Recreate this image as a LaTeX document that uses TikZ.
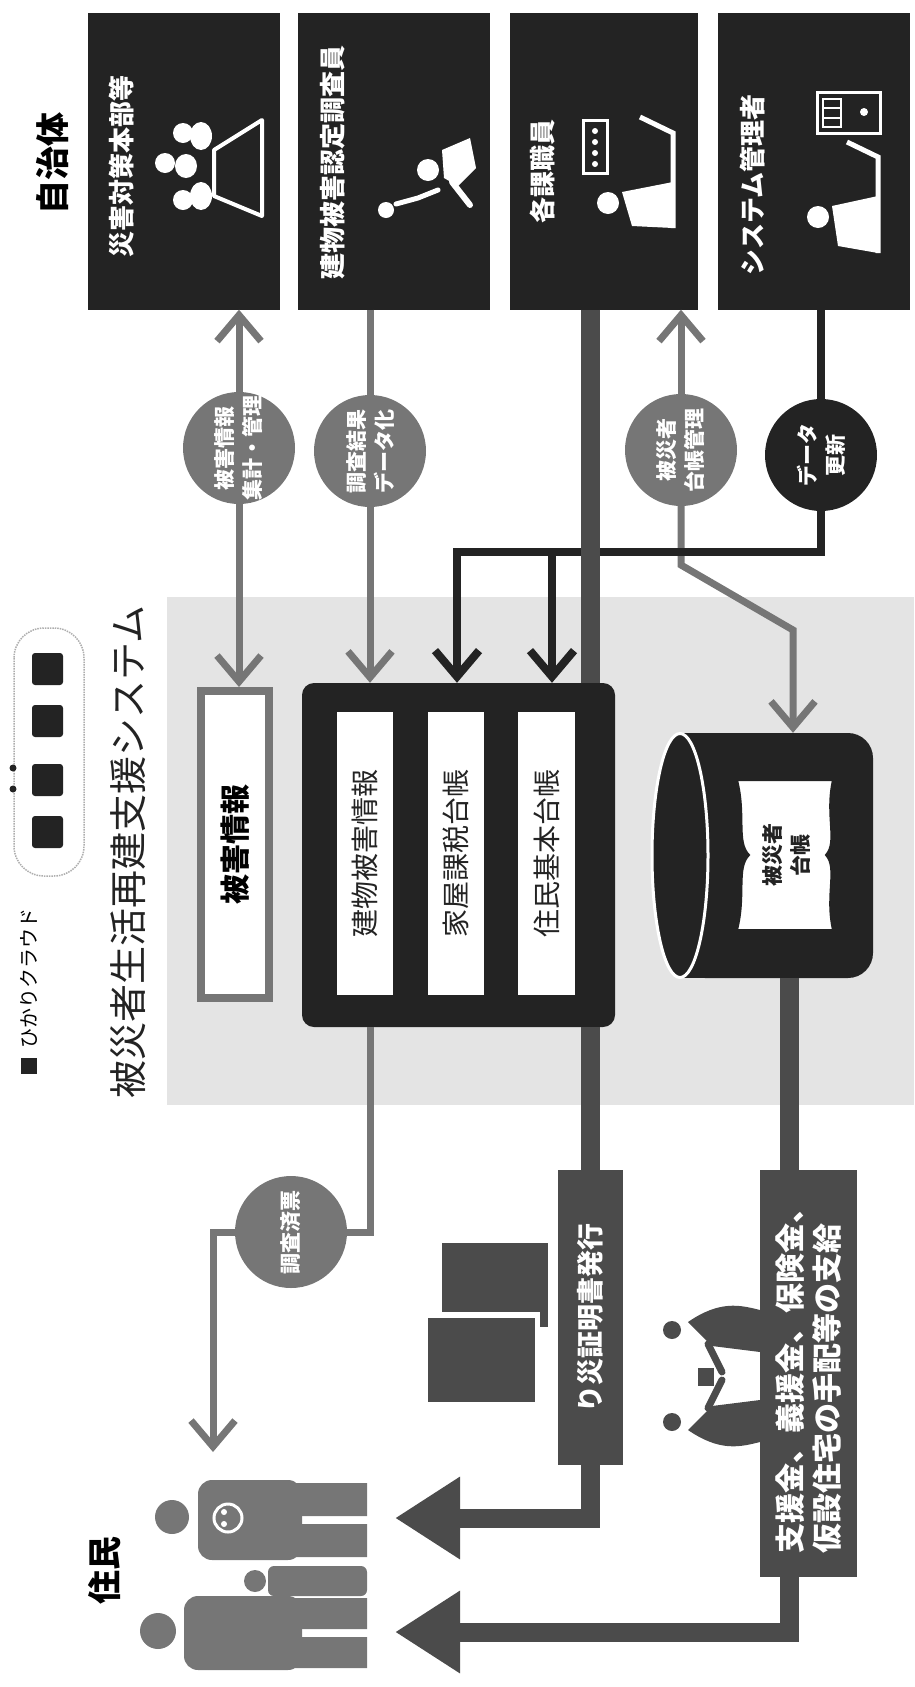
\documentclass[tikz,border=0pt]{standalone}
\usepackage{fontspec}
\setmainfont{Noto Sans CJK JP}
\usetikzlibrary{arrows.meta}

\definecolor{noir}{HTML}{232323}
\definecolor{sombre}{HTML}{4B4B4B}
\definecolor{gris}{HTML}{767676}
\definecolor{fond}{HTML}{E4E4E4}

\begin{document}
\begin{tikzpicture}[x=1pt,y=-1pt]
		\tikzstyle{acteur}=[fill=noir,minimum width=192pt,minimum height=297pt,inner sep=0pt]
		\tikzstyle{etiquette}=[rotate=90,inner sep=0pt,text=white,font=\bfseries\fontsize{26}{30}\selectfont]
		\tikzstyle{bulle}=[circle,fill=gris,minimum size=112pt,inner sep=0pt]
		\tikzstyle{texte bulle}=[rotate=90,align=center,text=white,font=\bfseries\fontsize{21}{28}\selectfont]
		\tikzstyle{barre}=[fill=white,minimum width=56pt,minimum height=283pt,inner sep=0pt]
		\tikzstyle{texte barre}=[rotate=90,text=noir,font=\fontsize{28}{28}\selectfont]
		\tikzstyle{bandeau}=[fill=sombre,inner sep=0pt]
		\tikzstyle{lien}=[draw=gris,line width=7pt]
		\tikzstyle{fleche}=[>={Straight Barb[length=26pt,width=44pt]}]
		\tikzstyle{bus}=[draw=noir,line width=8pt,->,>={Straight Barb[length=26pt,width=44pt]}]
		\tikzstyle{sortie}=[draw=sombre,line width=19pt,-{Triangle[length=65pt,width=78pt]}]
		
		\def\Haut{161}
		\def\Cercles{450}
		
		\useasboundingbox (0,0) rectangle (914,1687);
		\fill[fond] (167,597) rectangle (914,1105);
		
		% en-tetes
		\node[rotate=90,font=\bfseries\fontsize{34}{34}\selectfont] (Autorite) at (53,163) {自治体};
		\node[rotate=90,font=\bfseries\fontsize{34}{34}\selectfont] (Habitants) at (105,1570) {住民};
		\node[rotate=90,text=noir,font=\fontsize{38}{38}\selectfont] (Titre) at (128,852) {被災者生活再建支援システム};
		
		% logo
		\node[rotate=90,font=\fontsize{20}{20}\selectfont] (Logo) at (29,978) {ひかりクラウド};
		\fill[noir] (21,1058) rectangle (37,1074);
		\draw[gris!60,densely dotted,line width=1.5pt,rounded corners=30pt] (14,628) rectangle (84,876);
		\foreach \y in {669,721,780,832}
			\fill[noir,rounded corners=3pt] (32,\y-16) rectangle (63,\y+16);
		\fill[noir] (13,768) circle (3.5pt) (13,789) circle (3.5pt);
		
		% acteurs du haut
		\node[acteur] (Bureau) at (184,\Haut) {};
		\node[acteur] (Enqueteur) at (394,\Haut) {};
		\node[acteur,minimum width=188pt] (Agents) at (604,\Haut) {};
		\node[acteur] (Admin) at (814,\Haut) {};
		\node[etiquette] at (122,166) {災害対策本部等};
		\node[etiquette] at (333,162) {建物被害認定調査員};
		\node[etiquette] at (542,171) {各課職員};
		\node[etiquette] at (753,185) {システム管理者};
		
		% pictos des acteurs
		\draw[white,line width=4pt,line join=round] (214,150) -- (262,120) -- (262,216) -- (214,196) -- cycle;
		\fill[white] (183,133) circle (10pt) (165,163) circle (10pt) (183,200) circle (10pt);
		\fill[white] (201,136) ellipse [x radius=11pt,y radius=14pt];
		\fill[white] (186,166) ellipse [x radius=11pt,y radius=12pt];
		\fill[white] (201,196) ellipse [x radius=11pt,y radius=14pt];
		\fill[white] (428,170) circle (11pt);
		\fill[white] (442,150) -- (470,138) -- (476,168) -- (458,186) -- (444,178) -- cycle;
		\draw[white,line width=6pt,line cap=round] (452,182) -- (470,205);
		\fill[white] (386,210) circle (8pt);
		\draw[white,line width=5pt,line cap=round] (396,204) -- (418,198) -- (438,190);
		\draw[white,line width=3pt] (583,120) rectangle (607,173);
		\foreach \y in {131,142,153,164}
			\fill[white] (595,\y) circle (3pt);
		\fill[white] (608,203) circle (11pt);
		\fill[white] (622,192) -- (673,182) -- (673,228) -- (632,226) -- cycle;
		\draw[white,line width=5pt] (640,117) -- (673,133) -- (673,228);
		\draw[white,line width=3pt] (817,92) rectangle (880,133);
		\draw[white,line width=2pt] (823,99) rectangle (841,127) (823,108) -- (841,108) (823,118) -- (841,118);
		\fill[white] (864,112) circle (4pt);
		\fill[white] (818,217) circle (11pt);
		\fill[white] (832,206) -- (878,196) -- (878,253) -- (838,246) -- cycle;
		\draw[white,line width=5pt] (847,142) -- (878,157) -- (878,253);
		
		% systeme
		\node[draw=gris,line width=8pt,fill=white,minimum width=68pt,minimum height=307pt,inner sep=0pt] (Degats) at (235,844.5) {};
		\node[rotate=90,font=\bfseries\fontsize{30}{30}\selectfont] at (Degats) {被害情報};
		\node[fill=noir,rounded corners=12pt,minimum width=313pt,minimum height=344pt,inner sep=0pt] (Systeme) at (458.5,855) {};
		\node[barre] (Batiments) at (364.5,853.5) {};
		\node[barre] (Taxe) at (455.5,853.5) {};
		\node[barre,minimum width=57pt] (Residents) at (546.5,853.5) {};
		\node[texte barre] at (Batiments) {建物被害情報};
		\node[texte barre] at (Taxe) {家屋課税台帳};
		\node[texte barre] at (Residents) {住民基本台帳};
		
		% base des sinistres
		\node[minimum width=221pt,minimum height=245pt,inner sep=0pt] (Registre) at (762.5,855.5) {};
		\fill[noir,rounded corners=25pt] (680,733) rectangle (873,978);
		\fill[noir] (680,733) rectangle (760,978);
		\filldraw[fill=noir,draw=white,line width=3pt] (680,855.5) ellipse [x radius=28pt,y radius=122pt];
		\filldraw[fill=white,draw=noir,line width=2pt] (737,780) .. controls (746,815) and (736,842) .. (749,855) .. controls (736,868) and (746,895) .. (737,930) -- (833,930) .. controls (825,895) and (838,868) .. (826,855) .. controls (838,842) and (825,815) .. (833,780) -- cycle;
		\node[rotate=90,align=center,text=noir,font=\bfseries\fontsize{21}{28}\selectfont] at (787,855) {被災者\\台帳};
		
		% bulles
		\node[bulle] (Collecte) at (239,448) {};
		\node[bulle] (Saisie) at (370,451) {};
		\node[bulle] (GestionRegistre) at (681,\Cercles) {};
		\node[bulle,fill=noir] (MiseAJour) at (821,455) {};
		\node[bulle] (Releve) at (291,1232) {};
		\node[texte bulle] at (Collecte) {被害情報\\集計・管理};
		\node[texte bulle] at (Saisie) {調査結果\\データ化};
		\node[texte bulle] at (GestionRegistre) {被災者\\台帳管理};
		\node[texte bulle] at (MiseAJour) {データ\\更新};
		\node[texte bulle] at (Releve) {調査済票};
		
		\coordinate (CoudeA) at (681,565);
		\coordinate (CoudeB) at (793,630);
		\coordinate (Bus) at (457,552);
		\coordinate (Branche) at (552,552);
		\coordinate (Cible0) at (213,1452);
		\coordinate (Cible1) at (395,1518);
		\coordinate (Cible2) at (395,1632);
		
		% bandeaux du bas
		\node[bandeau,minimum width=65pt,minimum height=295pt] (Certif) at (590,1317.5) {};
		\node[etiquette,font=\bfseries\fontsize{27}{30}\selectfont] at (Certif) {り災証明書発行};
		\node[bandeau,minimum width=97pt,minimum height=407pt] (Aide) at (808.5,1373.5) {};
		\node[etiquette,align=left,font=\bfseries\fontsize{30}{37}\selectfont] at (Aide) {支援金、義援金、保険金、\\仮設住宅の手配等の支給};
		
		% liaisons
		\draw[lien,fleche,<-] (Bureau.south -| Collecte) -- (Collecte.north);
		\draw[lien,fleche,->] (Collecte.south) -- (Degats.north -| Collecte);
		\draw[lien] (Enqueteur.south -| Saisie) -- (Saisie.north);
		\draw[lien,fleche,->] (Saisie.south) -- (Systeme.north -| Saisie);
		\draw[lien,fleche,<-] (Agents.south -| GestionRegistre) -- (GestionRegistre.north);
		\draw[lien,fleche,->] (GestionRegistre.south) -- (CoudeA) -- (CoudeB) -- (CoudeB |- Registre.north);
		\draw[bus,-] (Admin.south -| MiseAJour) -- (MiseAJour.north);
		\draw[bus] (MiseAJour.south) -- (MiseAJour |- Bus) -- (Bus) -- (Bus |- Systeme.north);
		\draw[bus] (Branche) -- (Branche |- Systeme.north);
		\draw[draw=sombre,line width=19pt] (Agents.south -| Certif) -- (Systeme.north -| Certif);
		\draw[draw=sombre,line width=19pt] (Systeme.south -| Certif) -- (Certif.north);
		\draw[draw=sombre,line width=19pt] ([xshift=-19pt]Aide.north |- Registre.south) -- ([xshift=-19pt]Aide.north);
		\draw[lien] (Systeme.south -| Saisie) -- (Saisie |- Releve) -- (Releve.east);
		\draw[lien,fleche,->] (Releve.west) -- (Releve.west -| Cible0) -- (Cible0);
		\draw[sortie] (Certif.south) -- (Certif.south |- Cible1) -- (Cible1);
		\draw[sortie] ([xshift=-19pt]Aide.south) -- ([xshift=-19pt]Aide.south |- Cible2) -- (Cible2);
		
		% justificatifs
		\fill[sombre] (442,1243) rectangle (548,1312);
		\fill[sombre] (540,1310) rectangle (548,1327);
		\fill[sombre] (428,1318) rectangle (535,1402);
		
		% remise des aides
		\fill[sombre] (672,1330) circle (9pt) (672,1422) circle (9pt);
		\fill[sombre] (688,1322) .. controls (720,1300) and (740,1305) .. (760,1310) -- (760,1352) -- (712,1346) -- cycle;
		\fill[sombre] (688,1430) .. controls (720,1452) and (740,1447) .. (760,1442) -- (760,1400) -- (712,1406) -- cycle;
		\draw[sombre,line width=7pt,line cap=round] (708,1344) -- (722,1372) (708,1408) -- (722,1380);
		\fill[sombre] (698,1368) rectangle (714,1386);
		
		% famille
		\fill[gris] (158,1631) circle (18pt);
		\fill[gris,rounded corners=14pt] (184,1596) rectangle (302,1670);
		\fill[gris] (295,1598) rectangle (367,1629) (295,1637) rectangle (367,1668);
		\fill[gris] (172,1517) circle (17pt);
		\fill[gris,rounded corners=14pt] (198,1480) rectangle (302,1560);
		\fill[gris] (295,1483) rectangle (367,1516) (295,1524) rectangle (367,1557);
		\draw[white,line width=3pt] (228,1518) circle (14pt);
		\fill[white] (224,1512) circle (3pt) (224,1524) circle (3pt);
		\fill[gris] (255,1581) circle (11pt);
		\fill[gris,rounded corners=6pt] (268,1566) rectangle (367,1596);
\end{tikzpicture}
\end{document}
